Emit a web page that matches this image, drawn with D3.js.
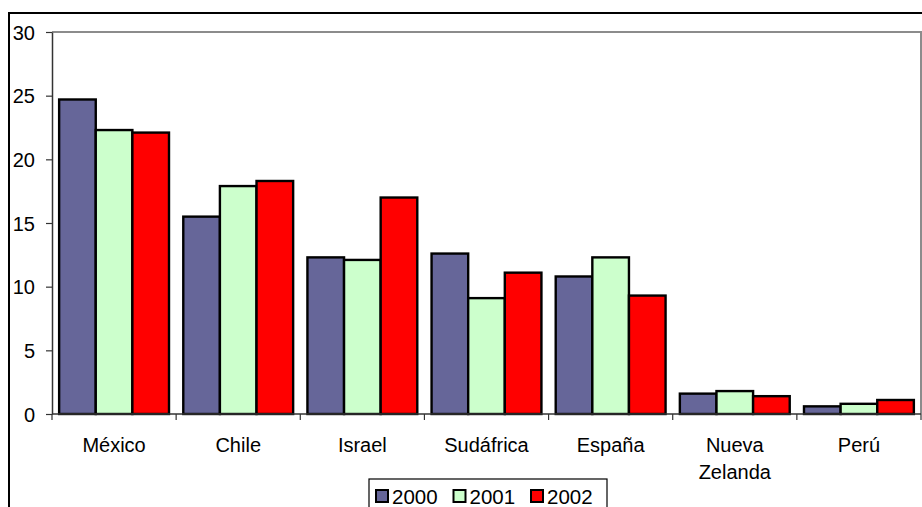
<!DOCTYPE html>
<html>
<head>
<meta charset="utf-8">
<script src="https://cdn.jsdelivr.net/npm/d3@7"></script>
<style>
  html, body { margin: 0; padding: 0; background: #fff; }
  svg { display: block; font-family: "Liberation Sans", Arial, sans-serif; }
</style>
</head>
<body>
<svg id="chart" width="922" height="507"></svg>
<script>
// Countries along the x axis (label lines for wrapped names)
const categories = ["México", "Chile", "Israel", "Sudáfrica", "España", "Nueva Zelanda", "Perú"];
const categoryLines = [["México"], ["Chile"], ["Israel"], ["Sudáfrica"], ["España"], ["Nueva", "Zelanda"], ["Perú"]];
const seriesNames = ["2000", "2001", "2002"];
const values2000 = [24.7, 15.5, 12.3, 12.6, 10.8, 1.6, 0.6];
const values2001 = [22.3, 17.9, 12.1, 9.1, 12.3, 1.8, 0.8];
const values2002 = [22.1, 18.3, 17.0, 11.1, 9.3, 1.4, 1.1];
const seriesColors = ["#666699", "#CCFFCC", "#FF0000"];
const yTicks = [0, 5, 10, 15, 20, 25, 30];

const seriesValues = [values2000, values2001, values2002];
const svg = d3.select("#chart");
const FONT = "Liberation Sans, Arial, sans-serif";

// Outer chart frame
svg.append("rect")
  .attr("x", 9).attr("y", 13)
  .attr("width", 930).attr("height", 520)
  .attr("fill", "#fff").attr("stroke", "#000").attr("stroke-width", 2);

const plot = { left: 52, right: 921, top: 32, bottom: 414 };

const x0 = d3.scaleBand()
  .domain(categories)
  .range([plot.left, plot.right])
  .paddingInner(0.115)
  .paddingOuter(0.0575);
const x1 = d3.scaleBand()
  .domain(seriesNames)
  .range([0, x0.bandwidth()]);
const y = d3.scaleLinear().domain([0, 30]).range([plot.bottom, plot.top]);

// Plot area border (top and right in gray)
svg.append("path")
  .attr("d", `M${plot.left},${plot.top}H${plot.right}V${plot.bottom}`)
  .attr("fill", "none").attr("stroke", "#8c8c8c").attr("stroke-width", 2);

// Bars
const groups = svg.append("g").selectAll("g")
  .data(categories)
  .join("g")
  .attr("transform", d => `translate(${x0(d)},0)`);

groups.selectAll("rect")
  .data((c, i) => seriesNames.map((s, j) => ({ s, v: seriesValues[j][i], j })))
  .join("rect")
  .attr("x", d => x1(d.s))
  .attr("y", d => y(d.v))
  .attr("width", x1.bandwidth())
  .attr("height", d => y(0) - y(d.v))
  .attr("fill", d => seriesColors[d.j])
  .attr("stroke", "#000")
  .attr("stroke-width", 2.4);

// Y axis
const yAxis = svg.append("g")
  .attr("transform", `translate(${plot.left},0)`)
  .call(d3.axisLeft(y).tickValues(yTicks).tickSize(6).tickPadding(11).tickSizeOuter(0));
yAxis.attr("font-size", 20).attr("font-family", FONT);
yAxis.select(".domain").attr("stroke", "#333").attr("stroke-width", 1.5);
yAxis.selectAll(".tick line").attr("stroke", "#333").attr("stroke-width", 1.2);
yAxis.selectAll(".tick text").attr("fill", "#000").attr("dy", "0.36em");

// X axis: baseline and ticks between categories
const xAxisG = svg.append("g");
xAxisG.append("line")
  .attr("x1", plot.left).attr("x2", plot.right)
  .attr("y1", plot.bottom).attr("y2", plot.bottom)
  .attr("stroke", "#333").attr("stroke-width", 1.5);
const boundaries = d3.range(categories.length + 1).map(i => plot.left + i * (plot.right - plot.left) / categories.length);
xAxisG.selectAll("line.tick")
  .data(boundaries)
  .join("line")
  .attr("class", "tick")
  .attr("x1", d => d).attr("x2", d => d)
  .attr("y1", plot.bottom).attr("y2", plot.bottom + 6)
  .attr("stroke", "#333").attr("stroke-width", 1.2);

// Category labels
const labels = svg.append("g").selectAll("text")
  .data(categories)
  .join("text")
  .attr("x", d => x0(d) + x0.bandwidth() / 2)
  .attr("y", 452)
  .attr("text-anchor", "middle")
  .attr("font-size", 20)
  .attr("font-family", FONT)
  .attr("fill", "#000");
labels.selectAll("tspan")
  .data((d, i) => categoryLines[i])
  .join("tspan")
  .attr("x", function () { return d3.select(this.parentNode).attr("x"); })
  .attr("dy", (d, i) => i === 0 ? 0 : 27)
  .text(d => d);

// Legend
const legend = svg.append("g");
legend.append("rect")
  .attr("x", 369).attr("y", 479)
  .attr("width", 238).attr("height", 40)
  .attr("fill", "#fff").attr("stroke", "#000").attr("stroke-width", 1.2);
const legendX = d3.scalePoint().domain(seriesNames).range([375, 530]);
const items = legend.selectAll("g.item")
  .data(seriesNames)
  .join("g")
  .attr("class", "item")
  .attr("transform", d => `translate(${legendX(d)},489)`);
items.append("rect")
  .attr("x", 1).attr("y", 1)
  .attr("width", 12).attr("height", 12)
  .attr("fill", (d, i) => seriesColors[i])
  .attr("stroke", "#000").attr("stroke-width", 2);
items.append("text")
  .attr("x", 17).attr("y", 14.5)
  .attr("font-size", 20.5)
  .attr("font-family", FONT)
  .attr("fill", "#000")
  .text(d => d);
</script>
</body>
</html>
